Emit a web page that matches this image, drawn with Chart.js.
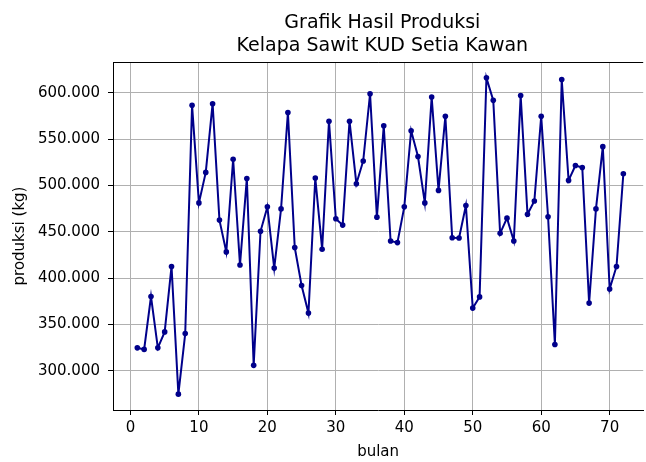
<!DOCTYPE html>
<html>
<head>
<meta charset="utf-8">
<title>Grafik Hasil Produksi</title>
<script src="https://cdn.jsdelivr.net/npm/chart.js@4/dist/chart.umd.min.js"></script>
<style>
    html, body { margin: 0; padding: 0; background: #fff; }
    #produksiChart { display: block; }
</style>
</head>
<body>
<canvas id="produksiChart" width="646" height="462"></canvas>
<script>
// Data produksi per bulan (kg)
const bulan = [];
for (let i = 1; i <= 72; i++) bulan.push(i);

const produksi = [
    324600, 322900, 380000, 324600, 341800, 412500, 274600, 340000, 586400, 481100,
    514000, 588200, 462500, 428200, 528200, 414000, 507500, 305700, 450400, 476800,
    410700, 474600, 578700, 432900, 391800, 362100, 507900, 431100, 569300, 464000,
    457100, 569300, 501800, 526400, 598900, 465700, 564300, 440000, 438200, 476800,
    558900, 531100, 481100, 595400, 494600, 574600, 443400, 443200, 478200, 367500,
    379600, 616100, 591800, 448200, 464600, 440000, 597100, 468900, 483200, 574600,
    466100, 328200, 614300, 505400, 521400, 519300, 372900, 474600, 541800, 388200,
    412500, 512500
];

const judul = ['Grafik Hasil Produksi', 'Kelapa Sawit KUD Setia Kawan'];
const xTicks = [0, 10, 20, 30, 40, 50, 60, 70];
const yTicks = [300000, 350000, 400000, 450000, 500000, 550000, 600000];

const FONT = "'DejaVu Sans', sans-serif";

// format ribuan pakai titik (600000 -> 600.000)
function formatRibuan(val) {
    return Math.round(val).toString().replace(/\B(?=(\d{3})+(?!\d))/g, '.');
}

// Judul dua baris di tengah area plot + garis tepi atas (gaya matplotlib)
const framePlugin = {
    id: 'framePlugin',
    afterDraw(chart) {
        const { ctx, chartArea, scales } = chart;
        ctx.save();
        ctx.strokeStyle = '#000';
        ctx.lineWidth = 1;
        ctx.beginPath();
        ctx.moveTo(chartArea.left, chartArea.top + 0.5);
        ctx.lineTo(chartArea.right, chartArea.top + 0.5);
        ctx.stroke();

        // pusat sumbu matplotlib (sisi kanan terpotong gambar)
        const cx = scales.x.getPixelForValue(36.8);
        ctx.fillStyle = '#000';
        ctx.font = '19px ' + FONT;
        ctx.textAlign = 'center';
        ctx.textBaseline = 'alphabetic';
        ctx.fillText(judul[0], cx, 28);
        ctx.fillText(judul[1], cx, 51);
        ctx.restore();
    }
};

const ctx = document.getElementById('produksiChart');
new Chart(ctx, {
    type: 'line',
    data: {
        labels: bulan,
        datasets: [{
            label: 'produksi',
            data: bulan.map((b, i) => ({ x: b, y: produksi[i] })),
            borderColor: '#00008b',
            backgroundColor: '#00008b',
            borderWidth: 2,
            pointRadius: 2.8,
            pointBorderWidth: 0,
            pointHoverRadius: 2.8,
            tension: 0,
            fill: false
        }]
    },
    options: {
        responsive: false,
        devicePixelRatio: 1,
        animation: false,
        events: [],
        layout: { padding: { top: 62, left: 0, right: 0, bottom: 0 } },
        plugins: {
            legend: { display: false },
            title: { display: false },
            tooltip: { enabled: false }
        },
        scales: {
            x: {
                type: 'linear',
                min: -2.55,
                max: 74.9,
                afterFit: (scale) => { scale.height = 52; },
                afterBuildTicks: (scale) => { scale.ticks = xTicks.map(v => ({ value: v })); },
                grid: {
                    color: '#b0b0b0',
                    lineWidth: 1,
                    tickColor: '#000',
                    tickLength: 5,
                    drawTicks: true
                },
                border: { display: true, color: '#000', width: 1 },
                ticks: {
                    includeBounds: false,
                    padding: 4,
                    color: '#000',
                    font: { family: FONT, size: 15 },
                    maxRotation: 0,
                    autoSkip: false
                },
                title: {
                    display: true,
                    text: 'bulan',
                    color: '#000',
                    font: { family: FONT, size: 15 },
                    padding: { top: 0, bottom: 1 }
                }
            },
            y: {
                type: 'linear',
                min: 257500,
                max: 633200,
                afterFit: (scale) => { scale.width = 113; },
                afterBuildTicks: (scale) => { scale.ticks = yTicks.map(v => ({ value: v })); },
                grid: {
                    color: '#b0b0b0',
                    lineWidth: 1,
                    tickColor: '#000',
                    tickLength: 5,
                    drawTicks: true
                },
                border: { display: true, color: '#000', width: 1 },
                ticks: {
                    includeBounds: false,
                    padding: 8,
                    color: '#000',
                    font: { family: FONT, size: 15 },
                    callback: (value) => formatRibuan(value)
                },
                title: {
                    display: true,
                    text: 'produksi (kg)',
                    color: '#000',
                    font: { family: FONT, size: 15 },
                    padding: { top: 11, bottom: 0 }
                }
            }
        }
    },
    plugins: [framePlugin]
});
</script>
</body>
</html>
